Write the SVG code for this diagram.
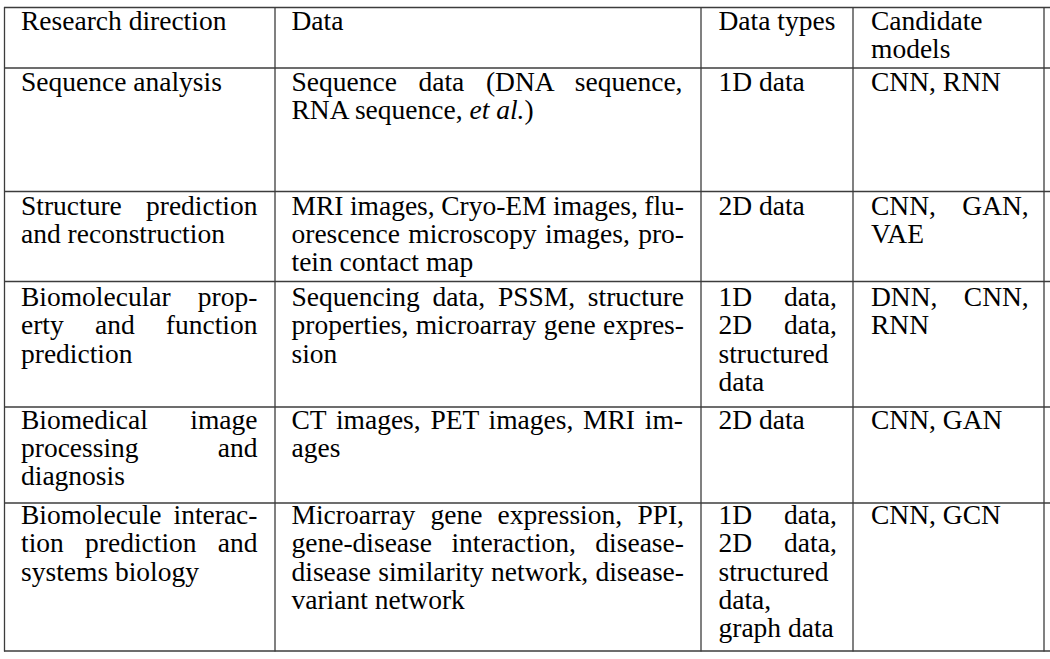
<svg xmlns="http://www.w3.org/2000/svg" width="1050" height="659" viewBox="0 0 1050 659">
<style>
.t text{font-family:"Liberation Serif","Times New Roman","DejaVu Serif",serif;font-size:27.5px;fill:#000}
.it{font-style:italic}
.g line{stroke:#3c3c3c;stroke-width:1.3}
</style>
<rect width="1050" height="659" fill="#fff"/>
<g id="grid" class="g">
<line x1="4" y1="7.5" x2="1050" y2="7.5"/>
<line x1="4" y1="68" x2="1050" y2="68"/>
<line x1="4" y1="191.5" x2="1050" y2="191.5"/>
<line x1="4" y1="281.5" x2="1050" y2="281.5"/>
<line x1="4" y1="407" x2="1050" y2="407"/>
<line x1="4" y1="503" x2="1050" y2="503"/>
<line x1="4" y1="651" x2="1050" y2="651"/>
<line x1="4.5" y1="7" x2="4.5" y2="651.5"/>
<line x1="275" y1="7" x2="275" y2="651.5"/>
<line x1="701" y1="7" x2="701" y2="651.5"/>
<line x1="853" y1="7" x2="853" y2="651.5"/>
<line x1="1044" y1="7" x2="1044" y2="651.5"/>
</g>
<g class="t" font-family="Liberation Serif, Times New Roman, serif">
<g id="header">
<text x="21" y="30">Research direction</text>
<text x="291.5" y="30">Data</text>
<text x="718.5" y="30">Data types</text>
<text x="871" y="30">Candidate</text>
<text x="871" y="58.3">models</text>
</g>
<g id="row1">
<text x="21" y="90.5">Sequence analysis</text>
<text x="291.5" y="90.5" word-spacing="14.77">Sequence data (DNA sequence,</text>
<text x="291.5" y="118.8">RNA sequence, <tspan class="it">et al.</tspan>)</text>
<text x="718.5" y="90.5">1D data</text>
<text x="871" y="90.5">CNN, RNN</text>
</g>
<g id="row2">
<text x="21" y="214.5" word-spacing="17.3">Structure prediction</text>
<text x="21" y="242.8">and reconstruction</text>
<text x="291.5" y="214.5" word-spacing="-0.41">MRI images, Cryo-EM images, flu-</text>
<text x="291.5" y="242.8" word-spacing="1.53">orescence microscopy images, pro-</text>
<text x="291.5" y="271.1">tein contact map</text>
<text x="718.5" y="214.5">2D data</text>
<text x="871" y="214.5" word-spacing="19.46">CNN, GAN,</text>
<text x="871" y="242.8">VAE</text>
</g>
<g id="row3">
<text x="21" y="306" word-spacing="20.3">Biomolecular prop-</text>
<text x="21" y="334.3" word-spacing="24.3">erty and function</text>
<text x="21" y="362.6">prediction</text>
<text x="291.5" y="306" word-spacing="5.83">Sequencing data, PSSM, structure</text>
<text x="291.5" y="334.3" word-spacing="0.52">properties, microarray gene expres-</text>
<text x="291.5" y="362.6">sion</text>
<text x="718.5" y="306" word-spacing="25.1">1D data,</text>
<text x="718.5" y="334.3" word-spacing="25.1">2D data,</text>
<text x="718.5" y="362.6">structured</text>
<text x="718.5" y="390.9">data</text>
<text x="871" y="306" word-spacing="19.46">DNN, CNN,</text>
<text x="871" y="334.3">RNN</text>
</g>
<g id="row4">
<text x="21" y="428.5" word-spacing="35.6">Biomedical image</text>
<text x="21" y="456.8" word-spacing="72.3">processing and</text>
<text x="21" y="485.1">diagnosis</text>
<text x="291.5" y="428.5" word-spacing="2.87">CT images, PET images, MRI im-</text>
<text x="291.5" y="456.8">ages</text>
<text x="718.5" y="428.5">2D data</text>
<text x="871" y="428.5">CNN, GAN</text>
</g>
<g id="row5">
<text x="21" y="524" word-spacing="5.1">Biomolecule interac-</text>
<text x="21" y="552.3" word-spacing="14.4">tion prediction and</text>
<text x="21" y="580.6">systems biology</text>
<text x="291.5" y="524" word-spacing="8.39">Microarray gene expression, PPI,</text>
<text x="291.5" y="552.3" word-spacing="12.58">gene-disease interaction, disease-</text>
<text x="291.5" y="580.6" word-spacing="0.49">disease similarity network, disease-</text>
<text x="291.5" y="608.9">variant network</text>
<text x="718.5" y="524" word-spacing="25.1">1D data,</text>
<text x="718.5" y="552.3" word-spacing="25.1">2D data,</text>
<text x="718.5" y="580.6">structured</text>
<text x="718.5" y="608.9">data,</text>
<text x="718.5" y="637.2">graph data</text>
<text x="871" y="524">CNN, GCN</text>
</g>
</g>
</svg>
